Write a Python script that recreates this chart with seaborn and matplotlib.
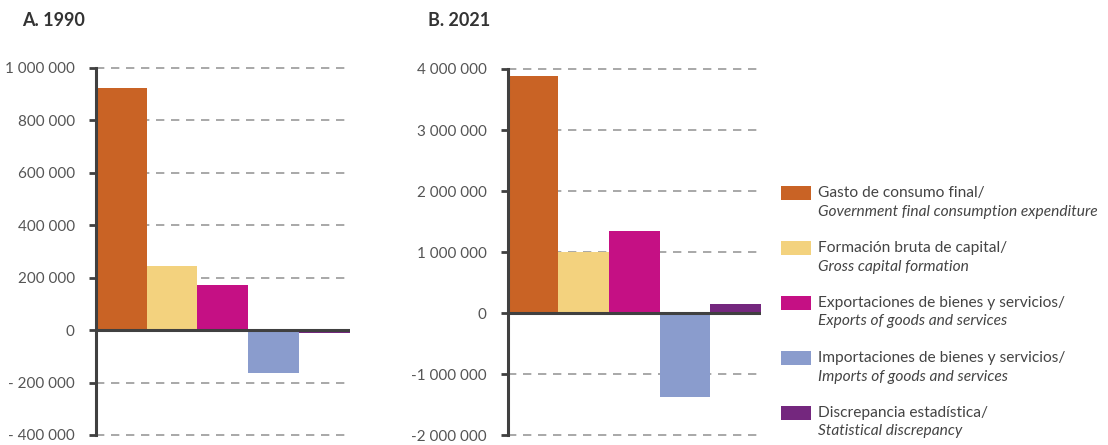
import matplotlib
matplotlib.use("Agg")
import matplotlib.pyplot as plt
from matplotlib.patches import Rectangle
import seaborn as sns
import pandas as pd

categories = ["Gasto de consumo final", "Formación bruta de capital",
              "Exportaciones de bienes y servicios", "Importaciones de bienes y servicios",
              "Discrepancia estadística"]
labels_es = ["Gasto de consumo final/", "Formación bruta de capital/",
             "Exportaciones de bienes y servicios/", "Importaciones de bienes y servicios/",
             "Discrepancia estadística/"]
labels_en = ["Government final consumption expenditure", "Gross capital formation",
             "Exports of goods and services", "Imports of goods and services",
             "Statistical discrepancy"]
values_1990 = [925000, 245000, 172000, -163000, -12000]
values_2021 = [3885000, 1000000, 1347000, -1380000, 152000]
colors = ["#C96325", "#F3D27E", "#C51084", "#8A9CCD", "#74277E"]

ticks_a = [-400000, -200000, 0, 200000, 400000, 600000, 800000, 1000000]
ticklabels_a = ["- 400 000", "- 200 000", "0", "200 000", "400 000", "600 000", "800 000", "1 000 000"]
ticks_b = [-2000000, -1000000, 0, 1000000, 2000000, 3000000, 4000000]
ticklabels_b = ["-2 000 000", "-1 000 000", "0", "1 000 000", "2 000 000", "3 000 000", "4 000 000"]

sns.set_theme(style="white")
FONT = ["Lato", "DejaVu Sans"]
plt.rcParams["font.family"] = FONT

fig = plt.figure(figsize=(11.08, 4.45), dpi=100)
W, H = 1108, 445
axA = fig.add_axes([95.7 / W, 1 - 435 / H, (350 - 95.7) / W, (435 - 68) / H])
axB = fig.add_axes([507.7 / W, 1 - 435.3 / H, (761 - 507.7) / W, (435.3 - 69) / H])

palette = dict(zip(categories, colors))

def draw(ax, vals, ticks, ticklabels, title, title_x):
    df = pd.DataFrame({"cat": categories, "val": vals})
    sns.barplot(data=df, x="cat", y="val", hue="cat", palette=palette, width=1.0,
                legend=False, ax=ax, saturation=1, zorder=3, linewidth=0)
    ax.set_xlim(-0.5, 4.5)
    ax.set_ylim(ticks[0], ticks[-1])
    ax.set_yticks(ticks)
    ax.set_yticklabels(ticklabels)
    for t in ticks:
        if t != 0:
            ax.axhline(t, xmax=0.985, color="#9a9a9a", lw=1.2, ls=(0, (5, 4)), zorder=1, clip_on=False)
    ax.axhline(0, color="#404040", lw=2.2, zorder=4)
    ax.set_xticks([])
    ax.set_xlabel("")
    ax.set_ylabel("")
    for s in ["top", "right", "bottom"]:
        ax.spines[s].set_visible(False)
    ax.spines["left"].set_color("#404040")
    ax.spines["left"].set_linewidth(2.2)
    ax.spines["left"].set_zorder(5)
    ax.tick_params(axis="y", left=True, length=5, width=2, color="#404040",
                   labelsize=11, labelcolor="#555555", pad=10)
    fig.text(title_x / W, 1 - 20 / H, title, fontsize=13, fontweight="bold",
             color="#333333", va="center", ha="left")

draw(axA, values_1990, ticks_a, ticklabels_a, "A. 1990", 22)
draw(axB, values_2021, ticks_b, ticklabels_b, "B. 2021", 428)

# legend
y0 = 193
for i, (es, en, c) in enumerate(zip(labels_es, labels_en, colors)):
    y = y0 + i * 55
    fig.add_artist(Rectangle((781 / W, 1 - (y + 7) / H), 30 / W, 14 / H,
                             transform=fig.transFigure, color=c, lw=0))
    fig.text(818 / W, 1 - y / H, es, fontsize=11.2, color="#444444", va="center", ha="left")
    fig.text(818 / W, 1 - (y + 18.5) / H, en, fontsize=11.2, color="#444444",
             va="center", ha="left", style="italic")

fig.savefig("out.png", dpi=100)
